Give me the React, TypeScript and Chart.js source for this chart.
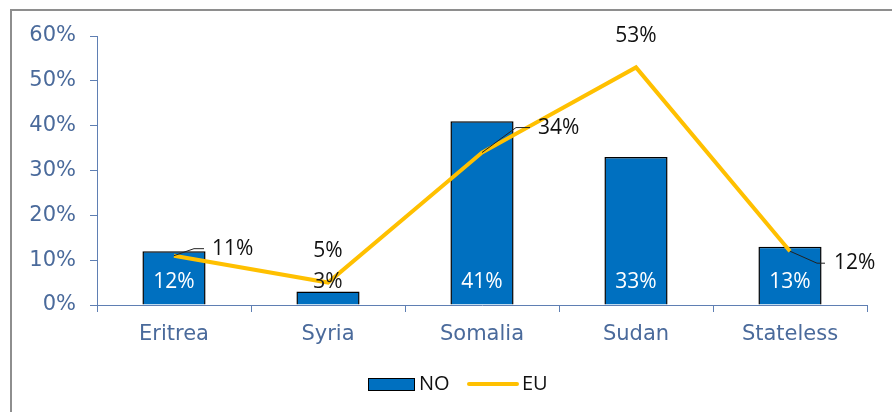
import React, { useEffect, useRef } from "react";
import { Chart, registerables } from "chart.js";

Chart.register(...registerables);

const categories = ["Eritrea", "Syria", "Somalia", "Sudan", "Stateless"];
const noValues = [12, 3, 41, 33, 13];
const euValues = [11, 5, 34, 53, 12];
const yTicks = [0, 10, 20, 30, 40, 50, 60];

const AXIS_TEXT = "#4a6a9b";
const AXIS_LINE = "#5f7fb3";
const BAR_BLUE = "#0070c0";
const LINE_YELLOW = "#ffc000";
const LABEL_FONT = "21px 'Open Sans', 'Noto Sans', sans-serif";
const LEGEND_FONT = "20px 'Open Sans', 'Noto Sans', sans-serif";
const AXIS_FONT = { family: "'DejaVu Sans', Verdana, sans-serif", size: 21 };

// label placement for EU points: "above" or a leader-line label to the right
const euLabelStyle: any[] = [
  { kind: "right", dx1: 20, dy1: -7, dx2: 30, tx: 38 },
  { kind: "above", dy: -32 },
  { kind: "right", dx1: 34, dy1: -25, dx2: 48, tx: 56 },
  { kind: "above", dy: -31 },
  { kind: "right", dx1: 27, dy1: 12, dx2: 35, tx: 44 },
];

const framePlugin = {
  id: "frame",
  beforeDraw(chart: any) {
    const ctx = chart.ctx;
    ctx.save();
    ctx.fillStyle = "#ffffff";
    ctx.fillRect(0, 0, chart.width, chart.height);
    ctx.strokeStyle = "#8e8e8e";
    ctx.lineWidth = 2;
    ctx.beginPath();
    ctx.moveTo(11, chart.height + 5);
    ctx.lineTo(11, 10);
    ctx.lineTo(chart.width + 5, 10);
    ctx.stroke();
    ctx.restore();
  },
};

const labelsPlugin = {
  id: "valueLabels",
  afterDatasetsDraw(chart: any) {
    const ctx = chart.ctx;
    const yScale = chart.scales.y;
    const base = yScale.getPixelForValue(0);
    ctx.save();
    ctx.font = LABEL_FONT;
    ctx.textBaseline = "middle";
    // NO labels (inside base)
    const barMeta = chart.getDatasetMeta(1);
    barMeta.data.forEach((el: any, i: number) => {
      const v = noValues[i];
      const small = base - el.y < 30;
      ctx.fillStyle = small ? "#1a1a1a" : "#ffffff";
      ctx.textAlign = "center";
      ctx.fillText(v + "%", el.x, base - 23);
    });
    // EU labels
    const lineMeta = chart.getDatasetMeta(0);
    lineMeta.data.forEach((el: any, i: number) => {
      const st = euLabelStyle[i];
      const txt = euValues[i] + "%";
      ctx.fillStyle = "#111111";
      if (st.kind === "above") {
        ctx.textAlign = "center";
        ctx.fillText(txt, el.x, el.y + st.dy);
      } else {
        ctx.strokeStyle = "#222222";
        ctx.lineWidth = 1;
        ctx.beginPath();
        ctx.moveTo(el.x, el.y);
        ctx.lineTo(el.x + st.dx1, el.y + st.dy1);
        ctx.lineTo(el.x + st.dx2, el.y + st.dy1);
        ctx.stroke();
        ctx.textAlign = "left";
        ctx.fillText(txt, el.x + st.tx, el.y + st.dy1);
      }
    });
    ctx.restore();
  },
};

const legendPlugin = {
  id: "customLegend",
  afterDraw(chart: any) {
    const ctx = chart.ctx;
    ctx.save();
    const cy = 384;
    // NO box
    ctx.fillStyle = BAR_BLUE;
    ctx.fillRect(368, cy - 6, 47, 13);
    ctx.strokeStyle = "#000000";
    ctx.lineWidth = 1;
    ctx.strokeRect(368.5, cy - 5.5, 46, 12);
    ctx.font = LEGEND_FONT;
    ctx.fillStyle = "#111111";
    ctx.textBaseline = "middle";
    ctx.textAlign = "left";
    ctx.fillText(chart.data.datasets[1].label, 419, cy);
    // EU line
    ctx.strokeStyle = LINE_YELLOW;
    ctx.lineWidth = 4;
    ctx.lineCap = "round";
    ctx.beginPath();
    ctx.moveTo(469, cy);
    ctx.lineTo(517, cy);
    ctx.stroke();
    ctx.fillText(chart.data.datasets[0].label, 522, cy);
    ctx.restore();
  },
};

export default function App() {
  const ref = useRef<HTMLCanvasElement | null>(null);
  useEffect(() => {
    if (!ref.current) return;
    const chart = new Chart(ref.current, {
      type: "bar",
      data: {
        labels: categories,
        datasets: [
          {
            type: "line",
            label: "EU",
            data: euValues,
            borderColor: LINE_YELLOW,
            backgroundColor: LINE_YELLOW,
            borderWidth: 4,
            pointRadius: 0,
            tension: 0,
            order: 0,
          } as any,
          {
            type: "bar",
            label: "NO",
            data: noValues,
            backgroundColor: BAR_BLUE,
            borderColor: "#000000",
            borderWidth: 1.5,
            borderSkipped: "bottom",
            categoryPercentage: 1,
            barPercentage: 0.41,
            order: 1,
          } as any,
        ],
      },
      options: {
        responsive: false,
        animation: false,
        layout: { padding: { left: 0, right: 25, top: 36, bottom: 0 } },
        plugins: {
          legend: { display: false },
          tooltip: { enabled: false },
          title: { display: false },
        },
        scales: {
          x: {
            afterFit(scale: any) {
              scale.height = 107;
            },
            grid: {
              display: true,
              drawOnChartArea: false,
              drawTicks: true,
              tickLength: 7,
              color: AXIS_LINE,
              offset: true,
            },
            border: { display: true, color: AXIS_LINE, width: 1 },
            ticks: {
              color: AXIS_TEXT,
              font: AXIS_FONT,
              padding: 10,
              maxRotation: 0,
            },
          },
          y: {
            min: 0,
            max: 60,
            afterFit(scale: any) {
              scale.width = 97;
            },
            afterBuildTicks(scale: any) {
              scale.ticks = yTicks.map((v) => ({ value: v }));
            },
            grid: {
              display: true,
              drawOnChartArea: false,
              drawTicks: true,
              tickLength: 7,
              color: AXIS_LINE,
            },
            border: { display: true, color: AXIS_LINE, width: 1 },
            ticks: {
              color: AXIS_TEXT,
              font: AXIS_FONT,
              padding: 14,
              callback: (v: any) => v + "%",
            },
          },
        },
      },
      plugins: [framePlugin, labelsPlugin, legendPlugin],
    });
    return () => chart.destroy();
  }, []);
  return (
    <div style={{ position: "absolute", left: 0, top: 0, width: 892, height: 412 }}>
      <canvas ref={ref} width={892} height={412} style={{ width: 892, height: 412, display: "block" }} />
    </div>
  );
}
